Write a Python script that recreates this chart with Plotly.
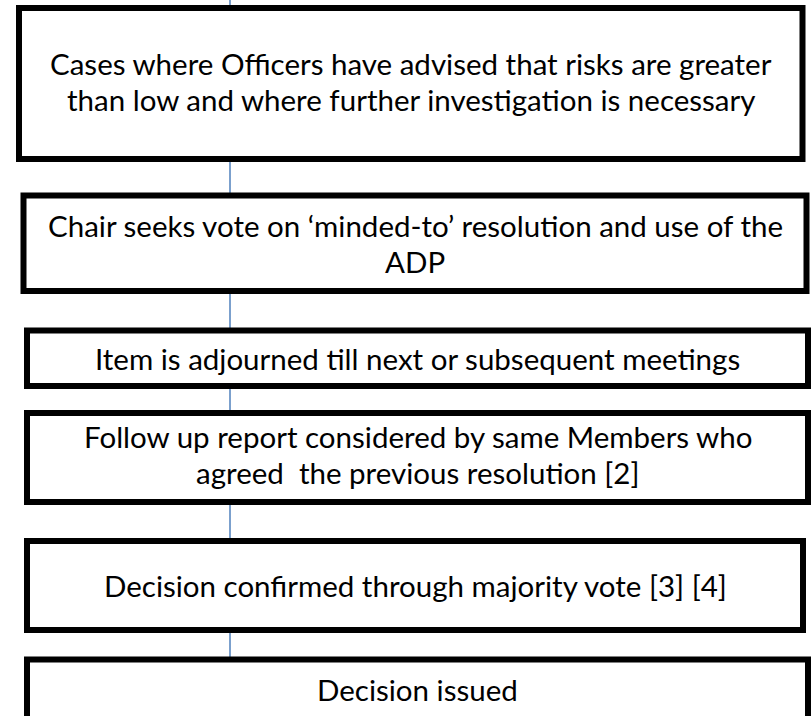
import plotly.graph_objects as go

# Flowchart step texts (each inner list = lines of text in a box)
steps = [
    ["Cases where Officers have advised that risks are greater",
     "than low and where further investigation is necessary"],
    ["Chair seeks vote on \u2018minded-to\u2019 resolution and use of the",
     "ADP"],
    ["Item is adjourned till next or subsequent meetings"],
    ["Follow up report considered by same Members who",
     "agreed  the previous resolution [2]"],
    ["Decision confirmed through majority vote [3] [4]"],
    ["Decision issued"],
]

# Box geometry (pixel coordinates: left, top, right, bottom)
box_left = [19, 23.5, 27, 27, 27, 27]
box_top = [8, 195.5, 330.5, 413, 541, 659.5]
box_right = [802.5, 806.5, 808, 808, 803, 808]
box_bottom = [159, 291, 386, 502, 630, 740]
text_center_y = [81, 243, 358, 454, 585, 689]
line_gap = 36
connector_x = 230

fig = go.Figure()

# connector line (drawn beneath boxes)
fig.add_shape(type="line", x0=connector_x, x1=connector_x, y0=-5, y1=box_top[-1],
              line=dict(color="#4F81BD", width=1.5), layer="below")

for i, lines in enumerate(steps):
    fig.add_shape(type="rect", x0=box_left[i], x1=box_right[i], y0=box_top[i], y1=box_bottom[i],
                  line=dict(color="black", width=6), fillcolor="white", layer="above")
    n = len(lines)
    cx = (box_left[i] + box_right[i]) / 2
    for j, t in enumerate(lines):
        y = text_center_y[i] + (j - (n - 1) / 2) * line_gap
        fig.add_annotation(x=cx, y=y, text=t, showarrow=False, xanchor="center", yanchor="middle",
                           font=dict(family="Lato, Open Sans, sans-serif", size=29.5, color="black"))

fig.update_layout(
    width=811, height=716,
    margin=dict(l=0, r=0, t=0, b=0),
    paper_bgcolor="white", plot_bgcolor="white",
    xaxis=dict(range=[0, 811], visible=False, fixedrange=True),
    yaxis=dict(range=[716, 0], visible=False, fixedrange=True),
    showlegend=False,
)

fig.write_html("out.html", config={"displayModeBar": False, "staticPlot": True},
               post_script="document.body.style.margin='0';document.body.style.overflow='hidden';")
